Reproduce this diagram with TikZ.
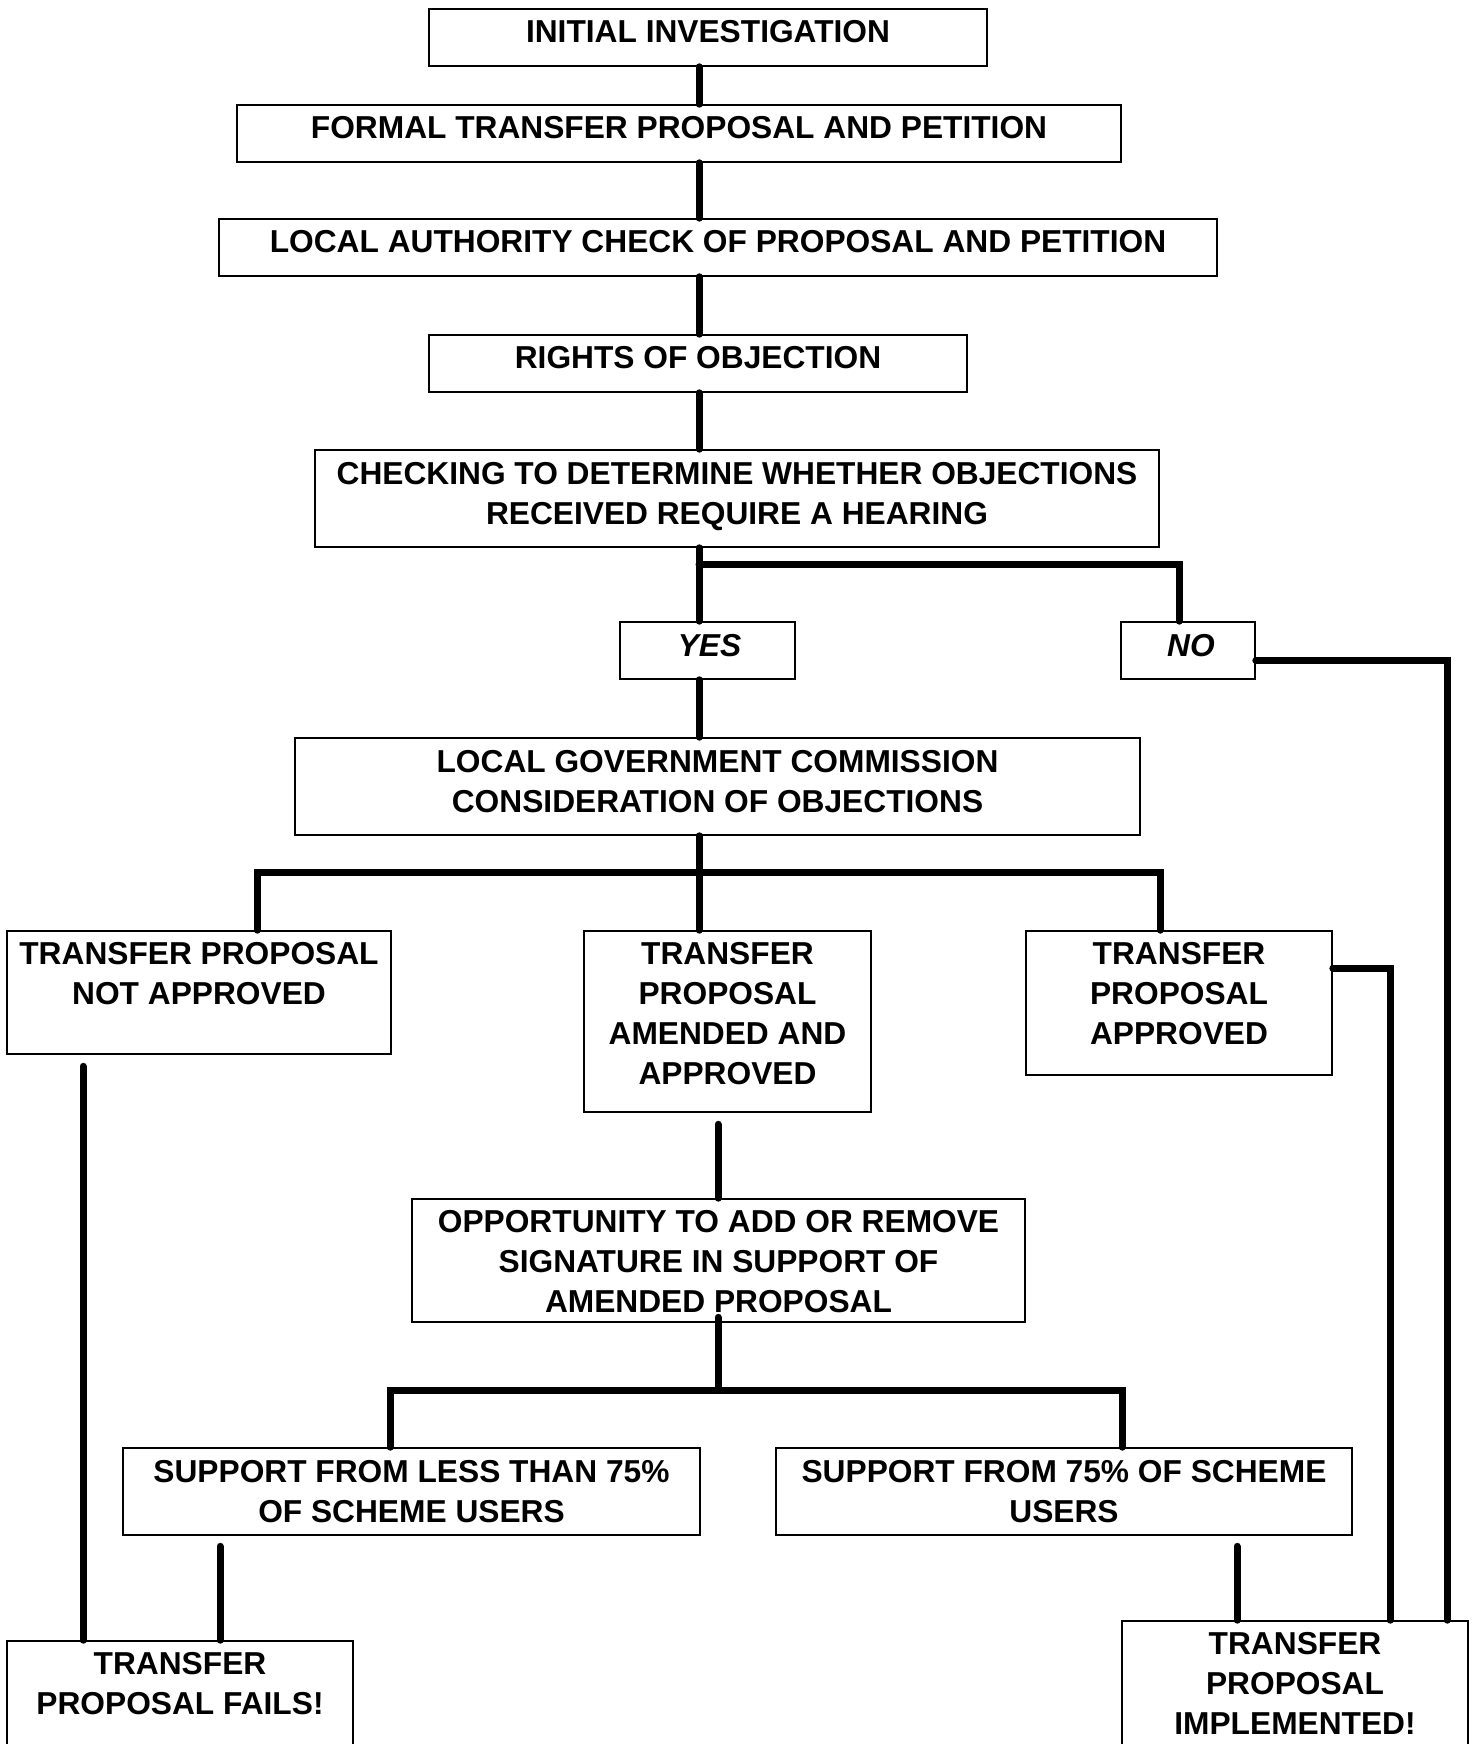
\documentclass[tikz,border=0pt]{standalone}
\usepackage{fontspec}
\setmainfont{Liberation Sans}
\begin{document}
\begin{tikzpicture}[x=0.5pt,y=-0.5pt,
  box/.style={draw, line width=0.8pt, inner sep=0pt},
  txt/.style={font=\bfseries\fontsize{15.85}{20}\selectfont, align=center, anchor=north, inner sep=0pt},
  itxt/.style={txt, font=\bfseries\itshape\fontsize{15.85}{20}\selectfont},
  conn/.style={line width=3.5pt, line cap=round}]
\useasboundingbox (0,0) rectangle (1476,1744);
\fill[white] (0,0) rectangle (1476,1744);

% boxes
\node[box, minimum width=279pt, minimum height=28.5pt] (init) at (708,37.5) {};
\node[box, minimum width=442pt, minimum height=28.5pt] (formal) at (679,133.5) {};
\node[box, minimum width=499pt, minimum height=28.5pt] (local) at (718,247.5) {};
\node[box, minimum width=269pt, minimum height=28.5pt] (rights) at (698,363.5) {};
\node[box, minimum width=422pt, minimum height=48.5pt] (check) at (737,498.5) {};
\node[box, minimum width=87.5pt, minimum height=28.5pt] (yes) at (707.5,650.5) {};
\node[box, minimum width=67pt, minimum height=28.5pt] (no) at (1188,650.5) {};
\node[box, minimum width=422.5pt, minimum height=48.5pt] (lgc) at (717.5,786.5) {};
\node[box, minimum width=192pt, minimum height=61.5pt] (notapp) at (199,992.5) {};
\node[box, minimum width=143.5pt, minimum height=90.5pt] (amend) at (727.5,1021.5) {};
\node[box, minimum width=153pt, minimum height=72pt] (appr) at (1179,1003) {};
\node[box, minimum width=306.5pt, minimum height=61.5pt] (opp) at (718.5,1260.5) {};
\node[box, minimum width=288.5pt, minimum height=43.5pt] (less) at (411.5,1491.5) {};
\node[box, minimum width=288pt, minimum height=43.5pt] (more) at (1064,1491.5) {};
\node[box, minimum width=173pt, minimum height=64.5pt] (fails) at (180,1705.5) {};
\node[box, minimum width=173pt, minimum height=74.5pt] (impl) at (1295,1695.5) {};

% texts
\node[txt] (tinit) at ([yshift=-5.75pt]init.north) {INITIAL INVESTIGATION};
\node[txt] (tformal) at ([yshift=-5.75pt]formal.north) {FORMAL TRANSFER PROPOSAL AND PETITION};
\node[txt] (tlocal) at ([yshift=-5.75pt]local.north) {LOCAL AUTHORITY CHECK OF PROPOSAL AND PETITION};
\node[txt] (trights) at ([yshift=-5.75pt]rights.north) {RIGHTS OF OBJECTION};
\node[txt] (tcheck) at ([yshift=-6.25pt]check.north) {CHECKING TO DETERMINE WHETHER OBJECTIONS\\RECEIVED REQUIRE A HEARING};
\node[itxt] (tyes) at ([yshift=-6.25pt,xshift=1pt]yes.north) {YES};
\node[itxt] (tno) at ([yshift=-6.25pt,xshift=1.5pt]no.north) {NO};
\node[txt] (tlgc) at ([yshift=-6.25pt]lgc.north) {LOCAL GOVERNMENT COMMISSION\\CONSIDERATION OF OBJECTIONS};
\node[txt] (tnotapp) at ([yshift=-6pt]notapp.north) {TRANSFER PROPOSAL\\NOT APPROVED};
\node[txt] (tamend) at ([yshift=-6pt]amend.north) {TRANSFER\\PROPOSAL\\AMENDED AND\\APPROVED};
\node[txt] (tappr) at ([yshift=-6pt]appr.north) {TRANSFER\\PROPOSAL\\APPROVED};
\node[txt] (topp) at ([yshift=-6pt]opp.north) {OPPORTUNITY TO ADD OR REMOVE\\SIGNATURE IN SUPPORT OF\\AMENDED PROPOSAL};
\node[txt] (tless) at ([yshift=-6.5pt]less.north) {SUPPORT FROM LESS THAN 75\%\\OF SCHEME USERS};
\node[txt] (tmore) at ([yshift=-6.5pt]more.north) {SUPPORT FROM 75\% OF SCHEME\\USERS};
\node[txt] (tfails) at ([yshift=-6pt]fails.north) {TRANSFER\\PROPOSAL FAILS!};
\node[txt] (timpl) at ([yshift=-6pt]impl.north) {TRANSFER\\PROPOSAL\\IMPLEMENTED!};

% column coordinates
\coordinate (sx) at (699,0);
\coordinate (nx) at (1179,0);
\coordinate (b1) at (699,564);
\coordinate (b2) at (699,872);
\coordinate (la) at (257,0);
\coordinate (ra) at (1160,0);
\coordinate (fa) at (83,0);
\coordinate (ox) at (718,0);
\coordinate (b3) at (718,1390);
\coordinate (l3) at (390,0);
\coordinate (r3) at (1122,0);
\coordinate (fb) at (220,0);
\coordinate (ia) at (1237,0);
\coordinate (ib) at (1390,0);
\coordinate (ic) at (1447,0);

% connectors
\draw[conn] (init.south -| sx) -- (formal.north -| sx);
\draw[conn] (formal.south -| sx) -- (local.north -| sx);
\draw[conn] (local.south -| sx) -- (rights.north -| sx);
\draw[conn] (rights.south -| sx) -- (check.north -| sx);
\draw[conn] (check.south -| sx) -- (yes.north -| sx);
\draw[conn] (b1) -| (no.north -| nx);
\draw[conn] (yes.south -| sx) -- (lgc.north -| sx);
\draw[conn] (lgc.south -| sx) -- (amend.north -| sx);
\draw[conn] (notapp.north -| la) -- (la |- b2) -- (ra |- b2) -- (appr.north -| ra);
\draw[conn] ([yshift=-5.75pt]notapp.south -| fa) -- (fails.north -| fa);
\draw[conn] ([yshift=-5.75pt]amend.south -| ox) -- (opp.north -| ox);
\draw[conn] ([yshift=2.75pt]opp.south -| ox) -- (b3);
\draw[conn] (less.north -| l3) -- (l3 |- b3) -- (r3 |- b3) -- (more.north -| r3);
\draw[conn] ([yshift=-5.25pt]less.south -| fb) -- (fails.north -| fb);
\draw[conn] ([yshift=-5.25pt]more.south -| ia) -- (impl.north -| ia);
\draw[conn] ([yshift=17.5pt]appr.east) -| (impl.north -| ib);
\draw[conn] ([yshift=-5pt]no.east) -| (impl.north -| ic);
\end{tikzpicture}
\end{document}
